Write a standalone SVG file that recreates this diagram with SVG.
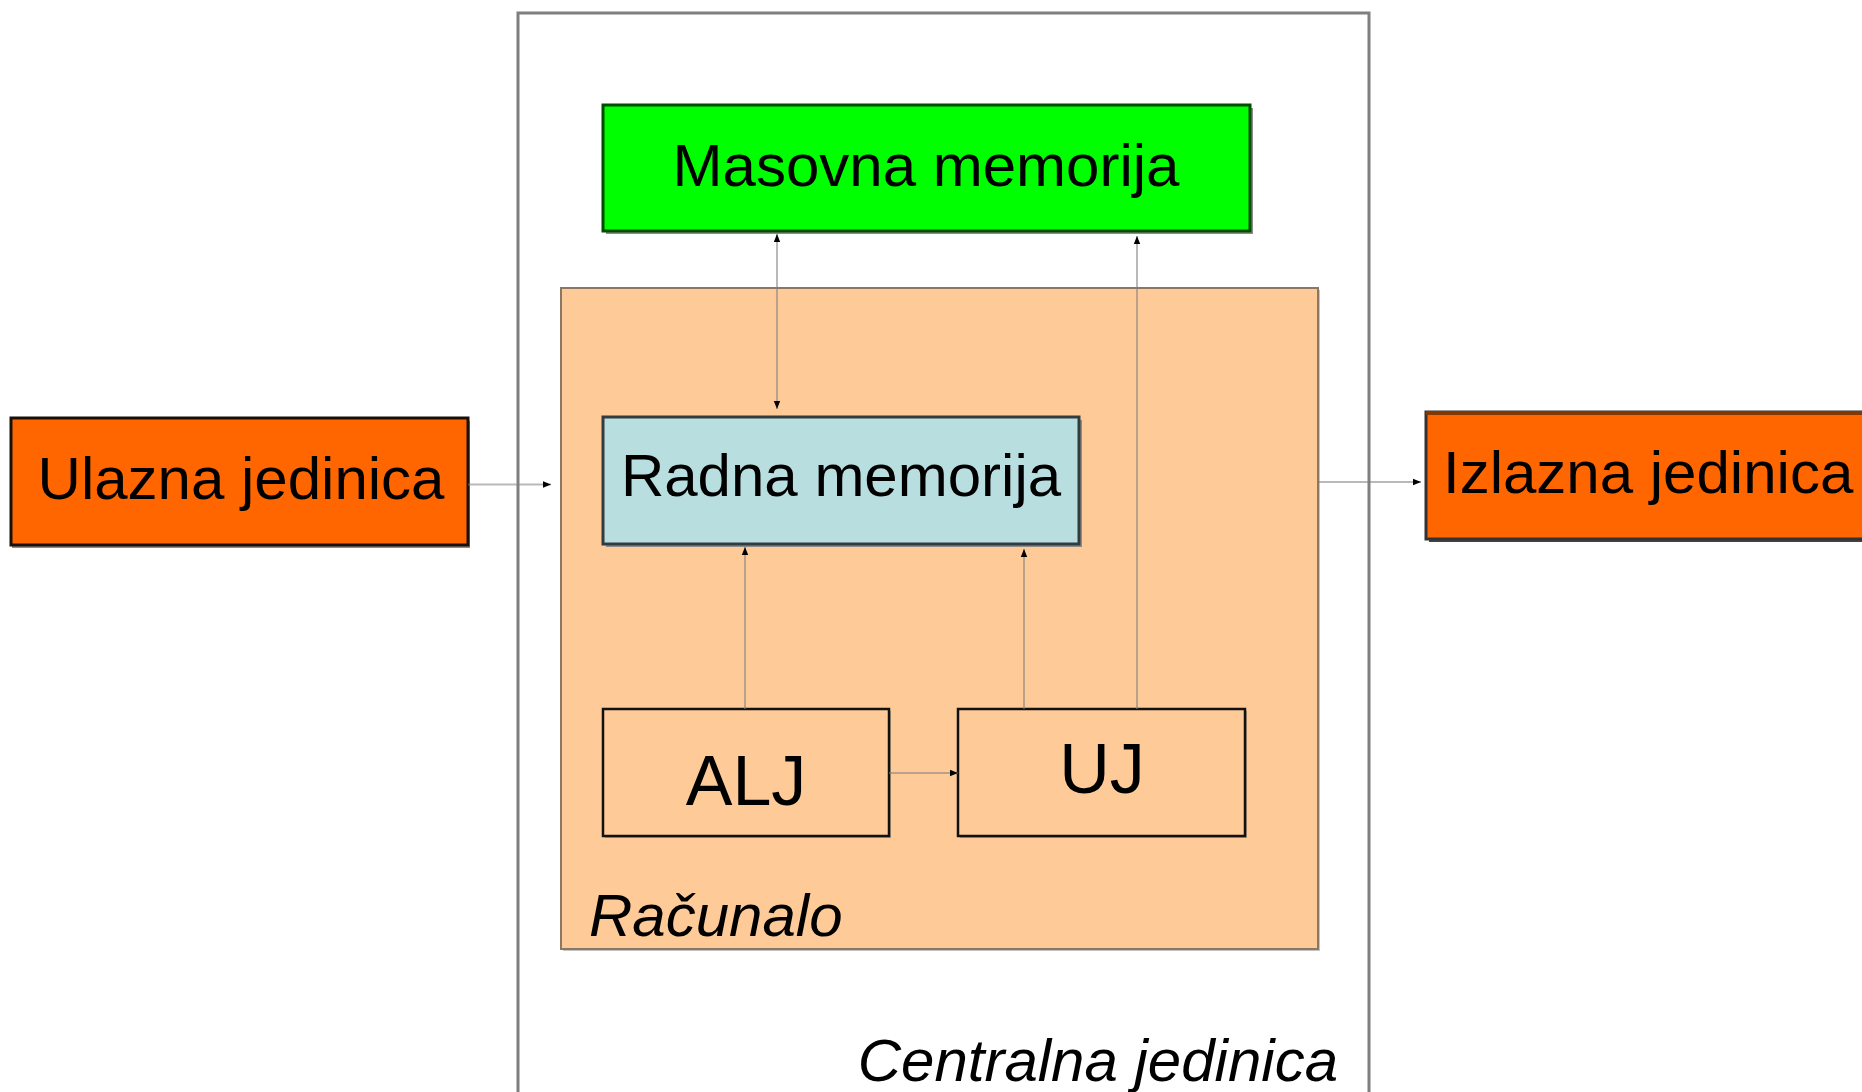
<svg xmlns="http://www.w3.org/2000/svg" width="1862" height="1092" viewBox="0 0 1862 1092">
  <defs>
    <marker id="arr" viewBox="0 0 10 10" refX="10" refY="5" markerWidth="8" markerHeight="8" markerUnits="userSpaceOnUse" orient="auto-start-reverse">
      <path d="M0,1 L10,5 L0,9 Z" fill="#000"/>
    </marker>
    <style>
      .lbl { font-family: "Liberation Sans", Arial, sans-serif; font-size: 60px; fill: #000; }
      .big { font-size: 70px; }
      .it { font-style: italic; }
      .shadow { fill: #8c8c8c; }
      .conn { stroke: #808080; stroke-opacity: 0.55; stroke-width: 2; fill: none; }
    </style>
  </defs>
  <rect width="1862" height="1092" fill="#fff"/>

  <!-- Centralna jedinica: outer container -->
  <g id="centralna-jedinica">
    <rect x="518" y="13" width="851" height="1090" fill="#fff" stroke="#7f7f7f" stroke-width="3"/>
    <text class="lbl it" x="1338" y="1081" text-anchor="end">Centralna jedinica</text>
  </g>

  <!-- Računalo: inner container -->
  <g id="racunalo">
    <rect x="563" y="290" width="757" height="661" class="shadow" opacity="0.5"/>
    <rect x="561" y="288" width="757" height="661" fill="#fecb98" stroke="#8c7763" stroke-width="2"/>
    <text class="lbl it" x="589" y="936">Računalo</text>
  </g>

  <!-- Masovna memorija -->
  <g id="masovna-memorija">
    <rect x="606" y="108" width="647" height="126" class="shadow"/>
    <rect x="603" y="105" width="647" height="126" fill="#00ff00" stroke="#004d00" stroke-width="3"/>
    <text class="lbl" x="926" y="186" text-anchor="middle">Masovna memorija</text>
  </g>

  <!-- Radna memorija -->
  <g id="radna-memorija">
    <rect x="606" y="420" width="476" height="127" class="shadow"/>
    <rect x="603" y="417" width="476" height="127" fill="#b8dee0" stroke="#333c3c" stroke-width="3"/>
    <text class="lbl" x="841" y="496" text-anchor="middle">Radna memorija</text>
  </g>

  <!-- ALJ -->
  <g id="alj">
    <rect x="605" y="711" width="286" height="127" fill="#b89a7a"/>
    <rect x="603" y="709" width="286" height="127" fill="#fecb98" stroke="#111" stroke-width="2.5"/>
    <text class="lbl big" x="746" y="805" text-anchor="middle">ALJ</text>
  </g>

  <!-- UJ -->
  <g id="uj">
    <rect x="960" y="711" width="287" height="127" fill="#b89a7a"/>
    <rect x="958" y="709" width="287" height="127" fill="#fecb98" stroke="#111" stroke-width="2.5"/>
    <text class="lbl big" x="1102" y="793" text-anchor="middle">UJ</text>
  </g>

  <!-- Ulazna jedinica -->
  <g id="ulazna-jedinica">
    <rect x="12" y="421" width="458" height="127" class="shadow"/>
    <rect x="11" y="418" width="457" height="127" fill="#ff6600" stroke="#1a1008" stroke-width="3"/>
    <text class="lbl" x="241" y="499" text-anchor="middle">Ulazna jedinica</text>
  </g>

  <!-- Izlazna jedinica -->
  <g id="izlazna-jedinica">
    <rect x="1429" y="415" width="460" height="127" fill="#444"/>
    <rect x="1426" y="412" width="460" height="127" fill="#ff6600" stroke="#333" stroke-width="3"/>
    <line x1="1426" y1="413" x2="1886" y2="413" stroke="#823800" stroke-width="4"/>
    <text class="lbl" x="1443" y="493">Izlazna jedinica</text>
  </g>

  <!-- Connectors -->
  <g id="connectors">
    <line class="conn" x1="468" y1="484.5" x2="551" y2="484.5" marker-end="url(#arr)"/>
    <line class="conn" x1="1318" y1="482" x2="1421" y2="482" marker-end="url(#arr)"/>
    <line class="conn" x1="777" y1="234" x2="777" y2="409" marker-start="url(#arr)" marker-end="url(#arr)"/>
    <line class="conn" x1="1137" y1="709" x2="1137" y2="236" marker-end="url(#arr)"/>
    <line class="conn" x1="745" y1="709" x2="745" y2="547" marker-end="url(#arr)"/>
    <line class="conn" x1="1024" y1="709" x2="1024" y2="549" marker-end="url(#arr)"/>
    <line class="conn" x1="889" y1="773" x2="958" y2="773" marker-end="url(#arr)"/>
  </g>
</svg>
